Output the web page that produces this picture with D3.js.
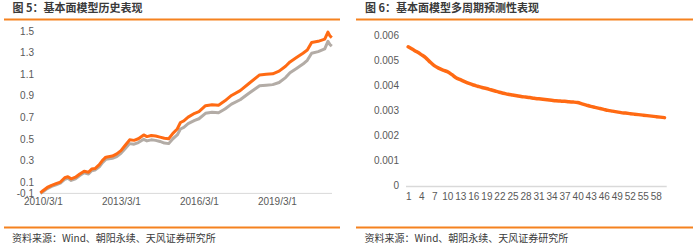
<!DOCTYPE html>
<html>
<head>
<meta charset="utf-8">
<script src="https://cdn.jsdelivr.net/npm/d3@7"></script>
<style>
  html, body { margin: 0; padding: 0; background: #fff; }
  svg { display: block; }
  .title { font-family: "Noto Sans CJK SC", sans-serif; font-weight: bold; font-size: 11px; fill: #3a3a3a; }
  .source { font-family: "Noto Sans CJK SC", sans-serif; font-size: 10px; fill: #3a3a3a; }
  .tick text { font-family: "Liberation Sans", Arial, sans-serif; font-size: 10px; fill: #595959; }
</style>
</head>
<body>
<svg id="chart" width="699" height="246"></svg>
<script>
// ---- Figure 5: historical performance of the fundamental model ----
const histDates = [
  "2010-01-25","2010-03-01","2010-05-01","2010-07-01","2010-09-01","2010-11-01",
  "2011-01-01","2011-02-15","2011-04-01","2011-06-01","2011-08-01","2011-10-01","2011-12-01",
  "2012-01-15","2012-03-01","2012-05-01","2012-06-15","2012-08-01","2012-11-01",
  "2013-01-01","2013-03-01","2013-05-01","2013-07-01","2013-09-01","2013-11-01",
  "2014-01-15","2014-03-01","2014-05-01","2014-07-01","2014-09-01","2014-11-01",
  "2015-01-01","2015-03-01","2015-05-01","2015-06-15","2015-08-01","2015-10-01",
  "2016-01-01","2016-03-01","2016-06-01","2016-09-01","2016-12-01",
  "2017-03-01","2017-06-01","2017-10-01",
  "2018-02-01","2018-07-01","2018-10-01",
  "2019-01-01","2019-04-01","2019-07-01","2019-09-01","2019-12-01",
  "2020-03-01","2020-05-01","2020-07-01","2020-10-01",
  "2021-01-01","2021-02-15","2021-03-15","2021-04-10"
];
const modelReturn = [
  0.00, 0.02, 0.05, 0.07, 0.085, 0.10,
  0.14, 0.15, 0.13, 0.145, 0.175, 0.20, 0.19,
  0.22, 0.225, 0.26, 0.30, 0.33, 0.34,
  0.36, 0.39, 0.44, 0.49, 0.485, 0.50,
  0.535, 0.52, 0.53, 0.525, 0.515, 0.505,
  0.50, 0.55, 0.59, 0.65, 0.665, 0.70,
  0.735, 0.75, 0.805, 0.815, 0.81,
  0.85, 0.90, 0.945,
  1.01, 1.09, 1.095,
  1.10, 1.125, 1.17, 1.21, 1.25,
  1.29, 1.32, 1.39, 1.40,
  1.42, 1.485, 1.45, 1.435
];
const modelReturnNet = [
  -0.005, 0.01, 0.04, 0.06, 0.075, 0.09,
  0.125, 0.135, 0.115, 0.13, 0.16, 0.185, 0.175,
  0.205, 0.21, 0.24, 0.28, 0.31, 0.32,
  0.335, 0.365, 0.41, 0.455, 0.45, 0.465,
  0.495, 0.48, 0.49, 0.485, 0.475, 0.46,
  0.455, 0.50, 0.535, 0.59, 0.605, 0.64,
  0.67, 0.685, 0.735, 0.745, 0.74,
  0.775, 0.82, 0.86,
  0.92, 0.99, 0.995,
  1.00, 1.02, 1.065, 1.11, 1.15,
  1.19, 1.225, 1.29, 1.305,
  1.33, 1.40, 1.37, 1.355
];
const histYTicks = [-0.1, 0.1, 0.3, 0.5, 0.7, 0.9, 1.1, 1.3, 1.5];
const histXTicks = ["2010-03-01", "2013-03-01", "2016-03-01", "2019-03-01"];

// ---- Figure 6: multi-horizon predictive performance ----
const horizons = d3.range(1, 61);
const horizonIC = [
  5.53, 5.43, 5.33, 5.22, 5.10, 4.93, 4.78, 4.68, 4.60, 4.54,
  4.43, 4.30, 4.22, 4.14, 4.07, 4.01, 3.96, 3.91, 3.87, 3.82,
  3.77, 3.72, 3.68, 3.64, 3.61, 3.58, 3.55, 3.53, 3.51, 3.48,
  3.46, 3.44, 3.42, 3.40, 3.38, 3.37, 3.36, 3.34, 3.33, 3.31,
  3.26, 3.21, 3.16, 3.12, 3.08, 3.04, 3.00, 2.97, 2.94, 2.91,
  2.89, 2.87, 2.85, 2.83, 2.81, 2.79, 2.77, 2.75, 2.73, 2.71
].map(v => v / 1000);
const icYTicks = [0, 0.001, 0.002, 0.003, 0.004, 0.005, 0.006];

const titles = ["图 5：基本面模型历史表现", "图 6：基本面模型多周期预测性表现"];
const sourceText = "资料来源：Wind、朝阳永续、天风证券研究所";

const ORANGE = "#ff6a13";
const GREY = "#b3aca6";
const RULE = "#f5821f";
const AXIS = "#d9d9d9";

const svg = d3.select("#chart");
const parse = d3.timeParse("%Y-%m-%d");

// Panel frames: title, rules, source line
const panels = [{ x0: 4, x1: 340, tx: 12.5 }, { x0: 356, x1: 693, tx: 365 }];
panels.forEach((p, i) => {
  svg.append("text").attr("class", "title").attr("x", p.tx).attr("y", 12).text(titles[i]);
  svg.append("line").attr("x1", p.x0).attr("x2", p.x1).attr("y1", 19.5).attr("y2", 19.5)
    .attr("stroke", RULE).attr("stroke-width", 2);
  svg.append("line").attr("x1", p.x0).attr("x2", p.x1).attr("y1", 227.5).attr("y2", 227.5)
    .attr("stroke", RULE).attr("stroke-width", 2);
  svg.append("text").attr("class", "source").attr("x", p.tx - 0.5).attr("y", 242).text(sourceText);
});

// ---- Left chart ----
{
  const dates = histDates.map(parse);
  const x = d3.scaleTime()
    .domain([parse("2010-01-19"), parse("2021-04-13")])
    .range([40, 332]);
  const y = d3.scaleLinear().domain([-0.1, 1.5]).range([203.7, 30.5]);

  const yAxis = d3.axisLeft(y).tickValues(histYTicks).tickSize(0).tickPadding(0)
    .tickFormat(d3.format(".1f"));
  const gy = svg.append("g").attr("transform", "translate(34,0)").call(yAxis);
  gy.select(".domain").remove();
  gy.selectAll(".tick text").attr("dy", "0.35em").text(d => d3.format(".1f")(d).replace("−", "-"));
  // -0.1 sits just below the zero line
  gy.selectAll(".tick").filter(d => d < 0).attr("transform", "translate(0,193.3)");

  svg.append("line").attr("x1", 40).attr("x2", 332).attr("y1", y(0) + 0.5).attr("y2", y(0) + 0.5)
    .attr("stroke", AXIS).attr("stroke-width", 1);

  const xAxis = d3.axisBottom(x).tickValues(histXTicks.map(parse)).tickSize(0).tickPadding(0)
    .tickFormat(d3.timeFormat("%Y/%-m/%-d"));
  const gx = svg.append("g").attr("transform", `translate(0,${y(0)})`).call(xAxis);
  gx.select(".domain").remove();
  gx.selectAll(".tick text").attr("y", 5).attr("dy", "0.71em");

  const line = d3.line().x((d, i) => x(dates[i])).y(d => y(d));
  svg.append("path").datum(modelReturnNet).attr("d", line)
    .attr("fill", "none").attr("stroke", GREY).attr("stroke-width", 3).attr("stroke-linejoin", "round");
  svg.append("path").datum(modelReturn).attr("d", line)
    .attr("fill", "none").attr("stroke", ORANGE).attr("stroke-width", 3).attr("stroke-linejoin", "round");
}

// ---- Right chart ----
{
  const x = d3.scalePoint().domain(horizons).range([406, 666.7]).padding(0.5);
  const y = d3.scaleLinear().domain([0, 0.006]).range([185.7, 35]);

  const yAxis = d3.axisLeft(y).tickValues(icYTicks).tickSize(0).tickPadding(0)
    .tickFormat(d => d === 0 ? "0" : d3.format(".3f")(d));
  const gy = svg.append("g").attr("transform", "translate(399,0)").call(yAxis);
  gy.select(".domain").remove();

  svg.append("line").attr("x1", 406).attr("x2", 666.7).attr("y1", 186.5).attr("y2", 186.5)
    .attr("stroke", AXIS).attr("stroke-width", 1.5);

  const xAxis = d3.axisBottom(x).tickValues(horizons.filter(h => (h - 1) % 3 === 0))
    .tickSize(0).tickPadding(0);
  const gx = svg.append("g").attr("transform", "translate(0,186)").call(xAxis);
  gx.select(".domain").remove();
  gx.selectAll(".tick text").attr("y", 7).attr("dy", "0.71em");

  const line = d3.line().x((d, i) => x(horizons[i])).y(d => y(d)).curve(d3.curveMonotoneX);
  svg.append("path").datum(horizonIC).attr("d", line)
    .attr("fill", "none").attr("stroke", ORANGE).attr("stroke-width", 3.5).attr("stroke-linecap", "round");
}
</script>
</body>
</html>
